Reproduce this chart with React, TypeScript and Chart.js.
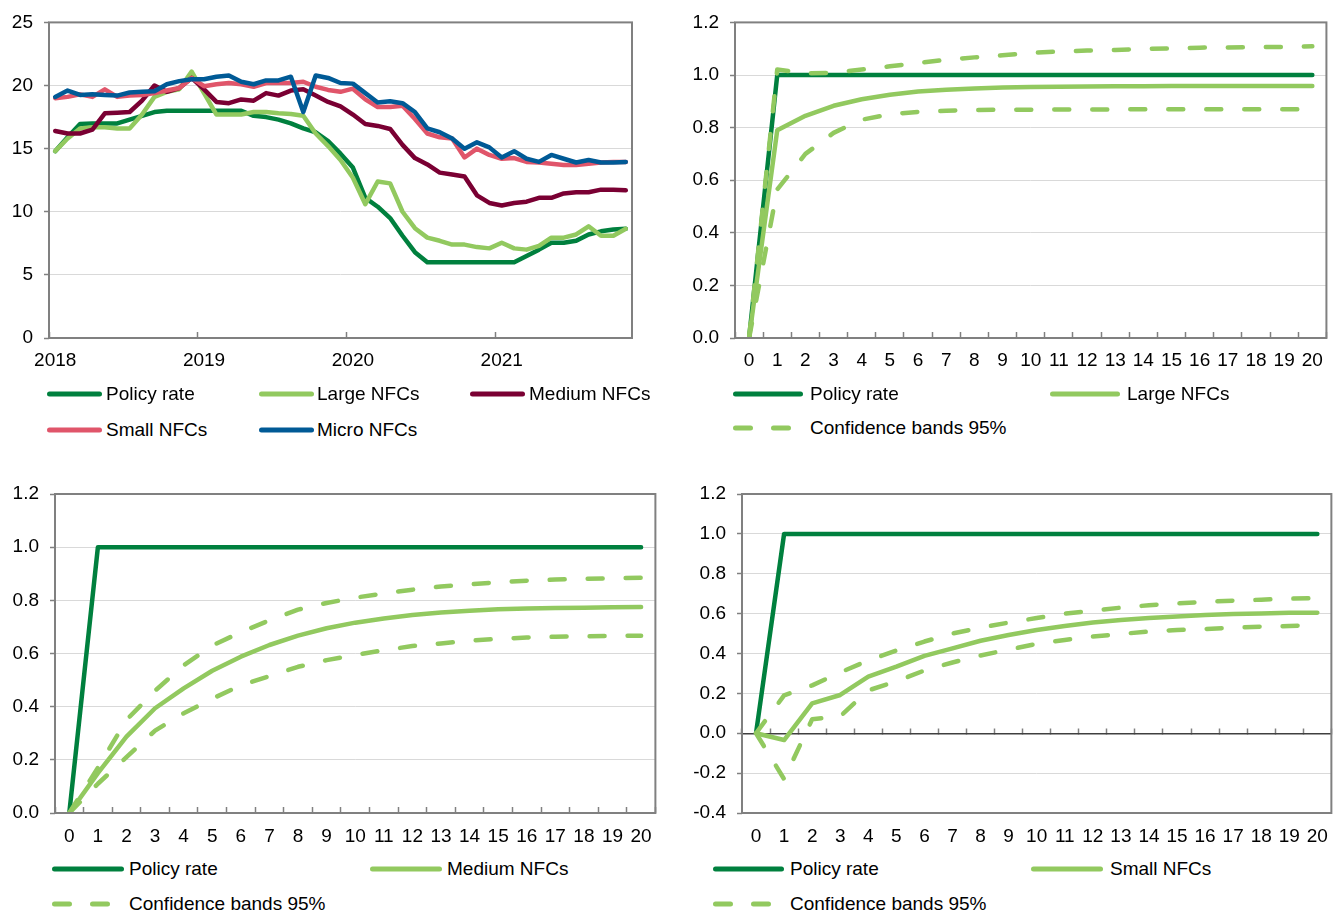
import React, { useEffect, useRef } from 'react';
import { Chart, registerables } from 'chart.js';

Chart.register(...registerables);

const FONT = "'Liberation Sans', Arial, Helvetica, sans-serif";
const FONT_SIZE = 19;
const AXIS = '#808080';
const GRID = '#d9d9d9';
const COL_POLICY = '#00803e';
const COL_LARGE = '#92c95f';
const COL_MEDIUM = '#7a0033';
const COL_SMALL = '#e0556a';
const COL_MICRO = '#005a96';

// ---------- Chart 1: lending rates, monthly Jan 2018 - Nov 2021 ----------
const years = ['2018', '2019', '2020', '2021'];
const monthLabels: string[] = years
  .flatMap((y) => ['01', '02', '03', '04', '05', '06', '07', '08', '09', '10', '11', '12'].map((m) => `${y}-${m}`))
  .slice(0, 47);

const policyRate = [
  14.8, 15.9, 16.95, 17.0, 17.0, 17.0, 17.3, 17.6, 17.9, 18.0, 18.0, 18.0,
  18.0, 18.0, 18.0, 18.0, 17.6, 17.5, 17.3, 17.0, 16.6, 16.3, 15.6, 14.6,
  13.5, 11.1, 10.4, 9.5, 8.1, 6.8, 6.0, 6.0, 6.0, 6.0, 6.0, 6.0,
  6.0, 6.0, 6.5, 7.0, 7.55, 7.55, 7.7, 8.2, 8.45, 8.6, 8.65,
];
const largeNFCs = [
  14.8, 15.8, 16.6, 16.7, 16.7, 16.6, 16.6, 17.7, 19.1, 19.5, 19.7, 21.1,
  19.4, 17.7, 17.7, 17.7, 17.9, 17.9, 17.8, 17.75, 17.6, 16.2, 15.2, 14.1,
  12.7, 10.6, 12.4, 12.25, 10.0, 8.7, 7.95, 7.7, 7.4, 7.4, 7.2, 7.1,
  7.55, 7.1, 7.0, 7.3, 7.95, 7.95, 8.2, 8.85, 8.1, 8.1, 8.65,
];
const mediumNFCs = [
  16.4, 16.2, 16.2, 16.5, 17.8, 17.85, 17.9, 18.8, 20.0, 19.5, 19.8, 20.6,
  19.7, 18.7, 18.6, 18.9, 18.8, 19.4, 19.2, 19.6, 19.7, 19.2, 18.7, 18.35,
  17.7, 16.95, 16.8, 16.56, 15.3, 14.25, 13.75, 13.1, 12.95, 12.8, 11.3, 10.7,
  10.5, 10.7, 10.8, 11.1, 11.1, 11.45, 11.55, 11.55, 11.75, 11.75, 11.7,
];
const smallNFCs = [
  19.0, 19.1, 19.3, 19.1, 19.7, 19.1, 19.2, 19.25, 19.4, 19.6, 19.8, 20.6,
  19.95, 20.1, 20.2, 20.1, 19.9, 20.2, 20.2, 20.2, 20.3, 19.9, 19.65, 19.5,
  19.75, 18.9, 18.3, 18.3, 18.4, 17.35, 16.2, 15.9, 15.8, 14.3, 15.0, 14.5,
  14.2, 14.25, 13.95, 13.9, 13.8, 13.7, 13.7, 13.8, 13.9, 13.95, 13.95,
];
const microNFCs = [
  19.1, 19.6, 19.25, 19.3, 19.25, 19.2, 19.45, 19.5, 19.55, 20.1, 20.35, 20.5,
  20.5, 20.7, 20.8, 20.3, 20.1, 20.4, 20.4, 20.7, 17.9, 20.8, 20.6, 20.2,
  20.15, 19.4, 18.65, 18.75, 18.6, 17.9, 16.6, 16.3, 15.8, 15.0, 15.5, 15.1,
  14.3, 14.8, 14.2, 13.95, 14.5, 14.2, 13.9, 14.1, 13.9, 13.9, 13.95,
];

// ---------- Impulse responses, horizons 0..20 ----------
const horizons = ['0', '1', '2', '3', '4', '5', '6', '7', '8', '9', '10', '11', '12', '13', '14', '15', '16', '17', '18', '19', '20'];
const policyIRF = [0, 1, 1, 1, 1, 1, 1, 1, 1, 1, 1, 1, 1, 1, 1, 1, 1, 1, 1, 1, 1];

const largeIRF = [0, 0.79, 0.845, 0.883, 0.908, 0.925, 0.937, 0.944, 0.949, 0.952, 0.954, 0.955, 0.956, 0.957, 0.957, 0.958, 0.958, 0.958, 0.958, 0.958, 0.958];
const largeUpper = [0, 1.021, 1.006, 1.008, 1.021, 1.033, 1.046, 1.058, 1.067, 1.075, 1.084, 1.089, 1.093, 1.095, 1.099, 1.101, 1.104, 1.105, 1.106, 1.107, 1.109];
const largeLower = [0, 0.565, 0.7, 0.78, 0.83, 0.851, 0.86, 0.864, 0.867, 0.868, 0.868, 0.869, 0.869, 0.869, 0.87, 0.87, 0.87, 0.87, 0.87, 0.87, 0.87];

const mediumIRF = [0, 0.15, 0.287, 0.394, 0.469, 0.535, 0.588, 0.632, 0.667, 0.695, 0.716, 0.732, 0.745, 0.754, 0.761, 0.766, 0.769, 0.771, 0.772, 0.774, 0.775];
const mediumUpper = [0, 0.17, 0.35, 0.46, 0.555, 0.63, 0.68, 0.725, 0.765, 0.79, 0.81, 0.826, 0.84, 0.852, 0.86, 0.868, 0.874, 0.878, 0.881, 0.883, 0.885];
const mediumLower = [0, 0.11, 0.21, 0.31, 0.375, 0.43, 0.48, 0.515, 0.55, 0.575, 0.595, 0.612, 0.628, 0.638, 0.648, 0.655, 0.66, 0.663, 0.665, 0.666, 0.667];

const smallIRF = [0, -0.034, 0.15, 0.192, 0.284, 0.334, 0.388, 0.426, 0.464, 0.493, 0.518, 0.538, 0.555, 0.568, 0.578, 0.586, 0.593, 0.598, 0.601, 0.604, 0.605];
const smallUpper = [0, 0.19, 0.24, 0.305, 0.365, 0.415, 0.46, 0.5, 0.53, 0.555, 0.578, 0.6, 0.615, 0.63, 0.642, 0.651, 0.659, 0.665, 0.67, 0.675, 0.678];
const smallLower = [0, -0.23, 0.07, 0.085, 0.215, 0.26, 0.315, 0.355, 0.39, 0.42, 0.448, 0.468, 0.485, 0.498, 0.51, 0.518, 0.523, 0.53, 0.535, 0.538, 0.543];

// ---------- helpers ----------
const font = { family: FONT, size: FONT_SIZE };

const boxPlugin = {
  id: 'plotBox',
  afterDraw(chart: any) {
    const { ctx, chartArea: a } = chart;
    ctx.save();
    ctx.strokeStyle = AXIS;
    ctx.lineWidth = 2;
    ctx.strokeRect(a.left, a.top, a.right - a.left, a.bottom - a.top);
    ctx.restore();
  },
};

type Box = { l: number; t: number; w: number; h: number; aL: number; aT: number; aR: number; aB: number };

function yAxis(min: number, max: number, step: number, box: Box, decimals: number) {
  return {
    min,
    max,
    ticks: {
      stepSize: step,
      padding: 11,
      color: '#000',
      font,
      callback: (v: any) => Number(v).toFixed(decimals),
    },
    grid: { color: GRID, lineWidth: 1, drawTicks: true, tickLength: 5, tickColor: AXIS, tickWidth: 1.5 },
    border: { display: false },
    afterFit: (s: any) => {
      s.width = box.aL - box.l;
    },
  };
}

function layoutFor(box: Box) {
  return { padding: { left: 0, top: box.aT - box.t, right: box.l + box.w - box.aR, bottom: 0 } };
}

function line(label: string, data: number[], color: string, order: number, dashed = false, width = 4.5) {
  return {
    label,
    data,
    borderColor: color,
    backgroundColor: color,
    borderWidth: width,
    borderDash: dashed ? [15, 23] : [],
    borderCapStyle: 'round' as const,
    borderJoinStyle: 'round' as const,
    pointRadius: 0,
    tension: 0,
    fill: false,
    order,
  };
}

const box1: Box = { l: 0, t: 0, w: 660, h: 385, aL: 49, aT: 19, aR: 632, aB: 338 };
const box2: Box = { l: 680, t: 0, w: 660, h: 385, aL: 735, aT: 19, aR: 1336, aB: 338 };
const box3: Box = { l: 0, t: 470, w: 670, h: 385, aL: 55, aT: 494, aR: 656, aB: 813 };
const box4: Box = { l: 680, t: 470, w: 660, h: 385, aL: 742, aT: 494, aR: 1336, aB: 813 };

function ratesConfig(): any {
  const box = box1;
  return {
    type: 'line',
    data: {
      labels: monthLabels,
      datasets: [
        line('Policy rate', policyRate, COL_POLICY, 5),
        line('Large NFCs', largeNFCs, COL_LARGE, 4),
        line('Medium NFCs', mediumNFCs, COL_MEDIUM, 3),
        line('Small NFCs', smallNFCs, COL_SMALL, 2),
        line('Micro NFCs', microNFCs, COL_MICRO, 1),
      ],
    },
    options: {
      animation: false,
      responsive: false,
      maintainAspectRatio: false,
      layout: layoutFor(box),
      plugins: { legend: { display: false }, tooltip: { enabled: false } },
      scales: {
        x: {
          type: 'category',
          offset: true,
          ticks: {
            autoSkip: false,
            maxRotation: 0,
            padding: 17,
            color: '#000',
            font,
            callback: (_v: any, i: number) => (i % 12 === 0 ? years[i / 12] : ''),
          },
          grid: {
            offset: true,
            drawOnChartArea: false,
            drawTicks: true,
            tickLength: -6,
            tickWidth: 1.5,
            tickColor: (ctx: any) => (typeof ctx.index === 'number' && ctx.index % 12 === 0 ? AXIS : 'rgba(0,0,0,0)'),
          },
          border: { display: false },
          afterFit: (s: any) => {
            s.height = box.t + box.h - box.aB;
          },
        },
        y: yAxis(0, 25, 5, box, 0),
      },
    },
    plugins: [boxPlugin],
  };
}

function irfConfig(box: Box, respLabel: string, resp: number[], upper: number[], lower: number[], yMin: number, zeroAxis: boolean, labelPad: number): any {
  const xScale: any = {
    type: 'category',
    offset: true,
    ticks: { autoSkip: false, maxRotation: 0, padding: labelPad, color: '#000', font },
    grid: zeroAxis
      ? { display: false, drawTicks: false, offset: true }
      : { offset: true, drawOnChartArea: false, drawTicks: true, tickLength: -6, tickWidth: 1.5, tickColor: AXIS },
    border: { display: false },
    afterFit: (s: any) => {
      s.height = box.t + box.h - box.aB;
    },
  };
  const scales: any = { x: xScale, y: yAxis(yMin, 1.2, 0.2, box, 1) };
  if (zeroAxis) {
    scales.x2 = {
      type: 'category',
      axis: 'x',
      position: { y: 0 },
      offset: true,
      ticks: { display: false },
      grid: { offset: true, drawOnChartArea: false, drawTicks: true, tickLength: -6, tickWidth: 1.5, tickColor: AXIS },
      border: { display: true, color: '#404040', width: 1.5 },
    };
  }
  return {
    type: 'line',
    data: {
      labels: horizons,
      datasets: [
        line('Policy rate', policyIRF, COL_POLICY, 3),
        line(respLabel, resp, COL_LARGE, 2),
        line('Confidence bands 95%', upper, COL_LARGE, 1, true),
        line('Confidence bands 95% (lower)', lower, COL_LARGE, 1, true),
      ],
    },
    options: {
      animation: false,
      responsive: false,
      maintainAspectRatio: false,
      layout: layoutFor(box),
      plugins: { legend: { display: false }, tooltip: { enabled: false } },
      scales,
    },
    plugins: [boxPlugin],
  };
}

function ChartCanvas({ box, make }: { box: Box; make: () => any }) {
  const ref = useRef<HTMLCanvasElement>(null);
  useEffect(() => {
    if (!ref.current) return;
    const chart = new Chart(ref.current, make());
    return () => chart.destroy();
  }, []);
  return (
    <canvas
      ref={ref}
      width={box.w}
      height={box.h}
      style={{ position: 'absolute', left: box.l, top: box.t, width: box.w, height: box.h }}
    />
  );
}

type LegendSpec = { x: number; y: number; len: number; textX: number; color: string; dashed?: boolean; label: string };

const legends: LegendSpec[] = [
  { x: 47, y: 394, len: 55, textX: 106, color: COL_POLICY, label: 'Policy rate' },
  { x: 259, y: 394, len: 55, textX: 317, color: COL_LARGE, label: 'Large NFCs' },
  { x: 470, y: 394, len: 55, textX: 529, color: COL_MEDIUM, label: 'Medium NFCs' },
  { x: 47, y: 430, len: 55, textX: 106, color: COL_SMALL, label: 'Small NFCs' },
  { x: 259, y: 430, len: 55, textX: 317, color: COL_MICRO, label: 'Micro NFCs' },

  { x: 733, y: 394, len: 70, textX: 810, color: COL_POLICY, label: 'Policy rate' },
  { x: 1050, y: 394, len: 70, textX: 1127, color: COL_LARGE, label: 'Large NFCs' },
  { x: 733, y: 428, len: 58, textX: 810, color: COL_LARGE, dashed: true, label: 'Confidence bands 95%' },

  { x: 52, y: 869, len: 72, textX: 129, color: COL_POLICY, label: 'Policy rate' },
  { x: 370, y: 869, len: 72, textX: 447, color: COL_LARGE, label: 'Medium NFCs' },
  { x: 52, y: 904, len: 58, textX: 129, color: COL_LARGE, dashed: true, label: 'Confidence bands 95%' },

  { x: 713, y: 869, len: 71, textX: 790, color: COL_POLICY, label: 'Policy rate' },
  { x: 1031, y: 869, len: 72, textX: 1110, color: COL_LARGE, label: 'Small NFCs' },
  { x: 713, y: 904, len: 60, textX: 790, color: COL_LARGE, dashed: true, label: 'Confidence bands 95%' },
];

function LegendItem({ s }: { s: LegendSpec }) {
  return (
    <>
      <svg
        width={s.len}
        height={10}
        style={{ position: 'absolute', left: s.x, top: s.y - 5, overflow: 'visible' }}
      >
        <line
          x1={2.5}
          y1={5}
          x2={s.len - 2.5}
          y2={5}
          stroke={s.color}
          strokeWidth={5}
          strokeLinecap="round"
          strokeDasharray={s.dashed ? '15 23' : undefined}
        />
      </svg>
      <span
        style={{
          position: 'absolute',
          left: s.textX,
          top: s.y - 12,
          lineHeight: '24px',
          fontSize: FONT_SIZE,
          fontFamily: FONT,
          color: '#000',
          whiteSpace: 'nowrap',
        }}
      >
        {s.label}
      </span>
    </>
  );
}

export default function App() {
  return (
    <div
      style={{
        position: 'absolute',
        left: 0,
        top: 0,
        width: 1337,
        height: 914,
        overflow: 'hidden',
        background: '#fff',
      }}
    >
      <ChartCanvas box={box1} make={ratesConfig} />
      <ChartCanvas box={box2} make={() => irfConfig(box2, 'Large NFCs', largeIRF, largeUpper, largeLower, 0, false, 17)} />
      <ChartCanvas box={box3} make={() => irfConfig(box3, 'Medium NFCs', mediumIRF, mediumUpper, mediumLower, 0, false, 18)} />
      <ChartCanvas box={box4} make={() => irfConfig(box4, 'Small NFCs', smallIRF, smallUpper, smallLower, -0.4, true, 12)} />
      {legends.map((s, i) => (
        <LegendItem key={i} s={s} />
      ))}
    </div>
  );
}
